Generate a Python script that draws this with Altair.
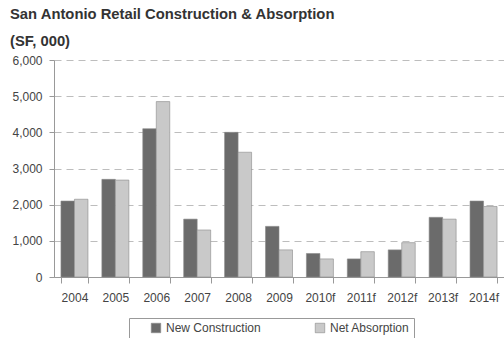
import altair as alt
import pandas as pd

years = ["2004", "2005", "2006", "2007", "2008", "2009", "2010f", "2011f", "2012f", "2013f", "2014f"]
new_construction = [2100, 2700, 4100, 1600, 4000, 1400, 650, 500, 750, 1650, 2100]
net_absorption = [2150, 2680, 4850, 1300, 3450, 750, 500, 700, 950, 1600, 1950]
series = ["New Construction", "Net Absorption"]
colors = ["#6b6b6b", "#c9c9c9"]

rows = []
for i, y in enumerate(years):
    rows.append({"year": y, "series": series[0], "value": new_construction[i]})
    rows.append({"year": y, "series": series[1], "value": net_absorption[i]})
df = pd.DataFrame(rows)

font = "Liberation Sans"

chart = alt.Chart(df).mark_bar(stroke="#8a8a8a", strokeWidth=0.6).encode(
    x=alt.X("year:N", sort=years, title=None,
            scale=alt.Scale(paddingInner=0.34, paddingOuter=0.17),
            axis=alt.Axis(labelAngle=0, tickBand="extent", tickSize=6, labelPadding=9,
                          domainColor="#999", tickColor="#999", labelFontSize=12,
                          labelColor="#444", labelFont=font)),
    xOffset=alt.XOffset("series:N", sort=series, scale=alt.Scale(paddingInner=0)),
    y=alt.Y("value:Q", title=None,
            scale=alt.Scale(domain=[0, 6000], nice=False),
            axis=alt.Axis(values=[0, 1000, 2000, 3000, 4000, 5000, 6000], format=",d",
                          tickSize=5, labelPadding=7, domainColor="#999", tickColor="#999",
                          gridColor="#bdbdbd", gridDash=[7, 5], gridWidth=1,
                          labelFontSize=12, labelColor="#444", labelFont=font)),
    color=alt.Color("series:N", sort=series, title=None,
                    scale=alt.Scale(domain=series, range=colors),
                    legend=alt.Legend(orient="none", legendX=75, legendY=258, direction="horizontal",
                                      symbolType="square", symbolSize=90, symbolStrokeColor="#888",
                                      symbolStrokeWidth=0.6, columnPadding=36, symbolOffset=17,
                                      labelFontSize=12, labelColor="#444", labelFont=font,
                                      strokeColor="#999", padding=4, fillColor="white")),
).properties(
    width=450,
    height=217,
    title=alt.TitleParams(
        text="San Antonio Retail Construction & Absorption",
        subtitle="(SF, 000)",
        anchor="start",
        frame="group",
        dx=-44,
        offset=5,
        font=font,
        fontSize=14.8,
        fontWeight="bold",
        color="#333",
        subtitleFont=font,
        subtitleFontSize=14.8,
        subtitleFontWeight="bold",
        subtitleColor="#333",
        subtitlePadding=12,
    ),
    autosize=alt.AutoSizeParams(type="none"),
    padding={"left": 54, "top": 60, "right": 0, "bottom": 61},
).configure_view(stroke=None).configure_axisY(grid=True).configure_axisX(grid=False)

chart.save("out.html", embed_options={"renderer": "svg", "actions": False})
